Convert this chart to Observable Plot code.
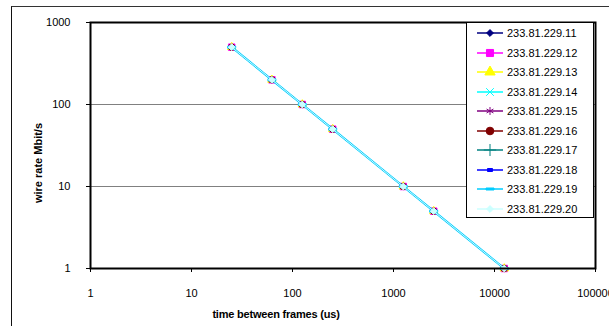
<!DOCTYPE html>
<html>
<head>
<meta charset="utf-8">
<script src="https://cdn.jsdelivr.net/npm/d3@7"></script>
<script src="https://cdn.jsdelivr.net/npm/@observablehq/plot@0.6"></script>
<style>
  html, body { margin: 0; padding: 0; background: #fff; overflow: hidden; }
  #wrap { position: relative; width: 609px; height: 326px; font-family: "Liberation Sans", Arial, sans-serif; }
  #outer { position: absolute; left: 11px; top: 6px; width: 620px; height: 340px; border-left: 1px solid #111; border-top: 1px solid #333; box-sizing: border-box; }
  .ytitle { position: absolute; left: 38px; top: 163px; transform: translate(-50%, -50%) rotate(-90deg); font-weight: bold; font-size: 11px; white-space: nowrap; color: #000; }
  .xtitle { position: absolute; left: 276px; top: 314px; transform: translate(-50%, -50%); font-weight: bold; font-size: 11px; white-space: nowrap; color: #000; letter-spacing: -0.2px; }
  #legend { position: absolute; left: 466px; top: 22px; width: 128px; height: 196px; background: #fff; border: 1px solid #000; box-sizing: border-box; padding-top: 0.5px; }
  .row { height: 19.5px; display: flex; align-items: center; font-size: 11px; color: #000; }
  .row svg { margin-left: 10px; width: 30px; height: 12px; flex: none; }
  #chart { position: absolute; left: 0; top: 0; }
</style>
</head>
<body>
<div id="wrap">
  <div id="outer"></div>
  <div id="chart"></div>
  <div class="ytitle">wire rate Mbit/s</div>
  <div class="xtitle">time between frames (us)</div>
  <div id="legend"></div>
</div>
<script>
// ---- data ----
const times = [25, 62.5, 125, 250, 1250, 2500, 12500];   // time between frames (us)
const rates = [500, 200, 100, 50, 10, 5, 1];              // wire rate Mbit/s (all series overlap)
const seriesNames = ["233.81.229.11", "233.81.229.12", "233.81.229.13", "233.81.229.14", "233.81.229.15",
                     "233.81.229.16", "233.81.229.17", "233.81.229.18", "233.81.229.19", "233.81.229.20"];
const xTicks = [1, 10, 100, 1000, 10000, 100000];
const yTicks = [1, 10, 100, 1000];

// ---- styles ----
const seriesColors = ["#000080", "#FF00FF", "#FFFF00", "#00FFFF", "#800080",
                      "#800000", "#008080", "#0000FF", "#00CCFF", "#CCFFFF"];
const dashSmall = {draw(ctx, size) { ctx.moveTo(-2.5, -1.5); ctx.lineTo(2.5, -1.5); ctx.lineTo(2.5, 1.5); ctx.lineTo(-2.5, 1.5); ctx.closePath(); }};
const dashWide = {draw(ctx, size) { ctx.moveTo(-4, -1); ctx.lineTo(4, -1); ctx.lineTo(4, 1); ctx.lineTo(-4, 1); ctx.closePath(); }};
const seriesSymbols = [d3.symbolDiamond2, d3.symbolSquare, d3.symbolTriangle, d3.symbolTimes, d3.symbolAsterisk,
                       d3.symbolCircle, d3.symbolPlus, dashSmall, dashWide, d3.symbolDiamond2];
const filled = [true, true, true, false, false, true, false, true, true, true];
const plotSize = [28, 42, 30, 14, 14, 32, 14, 20, 20, 30];
const legendSize = [30, 50, 46, 40, 44, 46, 52, 30, 30, 30];
const lineWidths = [1, 1, 1, 1, 1, 1, 1, 1, 2.2, 1];

const data = seriesNames.flatMap((name, i) =>
  times.map((t, j) => ({series: name, idx: i, time: t, rate: rates[j]})));

const marks = [
  Plot.ruleY([10, 100], {stroke: "#808080", strokeWidth: 1})
];
seriesNames.forEach((name, i) => {
  const d = data.filter(r => r.idx === i);
  marks.push(Plot.line(d, {x: "time", y: "rate", stroke: seriesColors[i], strokeWidth: lineWidths[i]}));
  marks.push(Plot.dot(d, {
    x: "time", y: "rate",
    symbol: seriesSymbols[i],
    r: Math.sqrt(plotSize[i] / Math.PI),
    fill: filled[i] ? seriesColors[i] : "none",
    stroke: seriesColors[i],
    strokeWidth: 1
  }));
});
marks.push(Plot.frame({stroke: "#000", strokeWidth: 2}));
marks.push(Plot.axisY({ticks: yTicks, tickFormat: d => String(d), tickSize: 4, tickPadding: 16, label: null, stroke: "#000"}));
marks.push(Plot.axisX({ticks: xTicks, tickFormat: d => String(d), tickSize: 4, tickPadding: 17, label: null, stroke: "#000"}));

const chart = Plot.plot({
  width: 609,
  height: 326,
  marginLeft: 90,
  marginRight: 14,
  marginTop: 22,
  marginBottom: 58,
  style: {fontFamily: "'Liberation Sans', Arial, sans-serif", fontSize: "11px", color: "#000", background: "transparent"},
  x: {type: "log", domain: [1, 100000]},
  y: {type: "log", domain: [1, 1000]},
  marks
});
document.getElementById("chart").appendChild(chart);

// ---- legend ----
const legend = document.getElementById("legend");
seriesNames.forEach((name, i) => {
  const p = d3.symbol(seriesSymbols[i], legendSize[i])();
  const fill = filled[i] ? seriesColors[i] : "none";
  const row = document.createElement("div");
  row.className = "row";
  row.innerHTML = `<svg viewBox="0 0 30 12"><line x1="0" x2="26" y1="6" y2="6" stroke="${seriesColors[i]}" stroke-width="1.5"/>` +
    `<path d="${p}" transform="translate(13,6)" fill="${fill}" stroke="${seriesColors[i]}" stroke-width="1"/></svg>` +
    `<span>${name}</span>`;
  legend.appendChild(row);
});
</script>
</body>
</html>
